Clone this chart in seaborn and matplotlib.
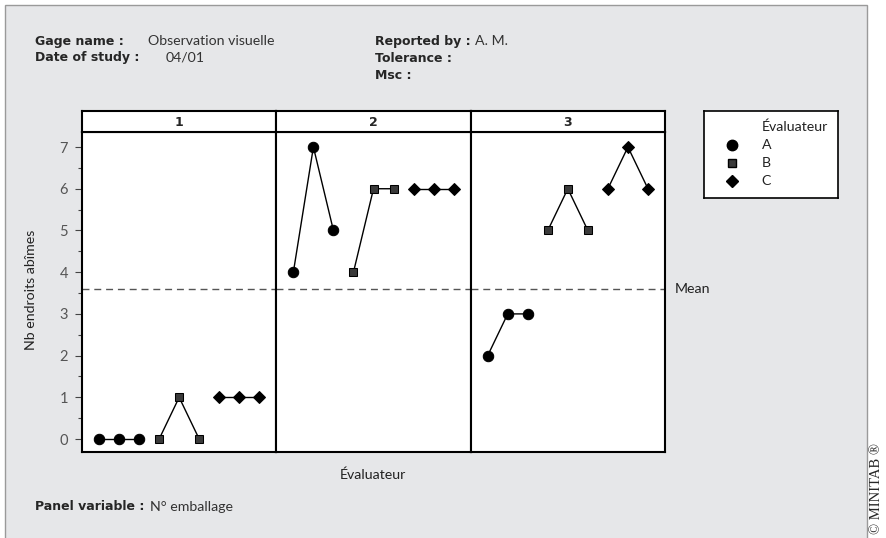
import numpy as np
import pandas as pd
import matplotlib
matplotlib.use("Agg")
import matplotlib.pyplot as plt
from matplotlib.patches import Rectangle
from matplotlib.lines import Line2D
import seaborn as sns

# ---- data -------------------------------------------------------------
panels = [1, 2, 3]
evaluators = ["A", "B", "C"]
trials = [1, 2, 3]
vals_A = [[0, 0, 0], [4, 7, 5], [2, 3, 3]]
vals_B = [[0, 1, 0], [4, 6, 6], [5, 6, 5]]
vals_C = [[1, 1, 1], [6, 6, 6], [6, 7, 6]]
y_ticks = [0, 1, 2, 3, 4, 5, 6, 7]

# ---- long table -------------------------------------------------------
rows = []
for pi, p in enumerate(panels):
    for ei, (ev, vals) in enumerate(zip(evaluators, [vals_A, vals_B, vals_C])):
        for ti, t in enumerate(trials):
            rows.append({"panel": p, "Évaluateur": ev,
                         "pos": ei * len(trials) + ti,
                         "value": vals[pi][ti]})
df = pd.DataFrame(rows)
mean_val = df["value"].mean()

# ---- style ------------------------------------------------------------
sns.set_style("white")
plt.rcParams["font.family"] = ["Lato", "DejaVu Sans"]
BOLD = ["DejaVu Sans"]

W, H = 887, 538
fig = plt.figure(figsize=(W / 100, H / 100), dpi=100)
fig.patch.set_facecolor("white")

def fx(px):
    return px / W

def fy(py):
    return 1 - py / H

# grey frame behind everything
fig.patches.append(Rectangle((fx(5), fy(545)), fx(867) - fx(5), fy(5) - fy(545),
                             transform=fig.transFigure, facecolor="#e6e7e9",
                             edgecolor="#9a9a9a", lw=1.0, zorder=-10))

# header text
hb = 9.0
hv = 10.2
fig.text(fx(35), fy(41), "Gage name :", fontsize=hb, fontweight="bold", family=BOLD, va="center")
fig.text(fx(148), fy(41), "Observation visuelle", fontsize=hv, color="#333", va="center")
fig.text(fx(35), fy(58), "Date of study :", fontsize=hb, fontweight="bold", family=BOLD, va="center")
fig.text(fx(166), fy(58), "04/01", fontsize=hv, color="#333", va="center")
fig.text(fx(375), fy(41), "Reported by :", fontsize=hb, fontweight="bold", family=BOLD, va="center")
fig.text(fx(475), fy(41), "A. M.", fontsize=hv, color="#333", va="center")
fig.text(fx(375), fy(58), "Tolerance :", fontsize=hb, fontweight="bold", family=BOLD, va="center")
fig.text(fx(375), fy(75), "Msc :", fontsize=hb, fontweight="bold", family=BOLD, va="center")

# panel geometry
left, right = 82, 665
top_strip, top_plot, bottom = 111, 132, 452
pw = (right - left) / len(panels)
ymin, ymax = -0.31, 7.36
markers = {"A": "o", "B": "s", "C": "D"}
msizes = {"A": 7.5, "B": 6.0, "C": 6.5}

for i, p in enumerate(panels):
    x0 = left + i * pw
    ax = fig.add_axes([fx(x0), fy(bottom), fx(pw), fy(top_plot) - fy(bottom)])
    ax.set_facecolor("white")
    sub = df[df["panel"] == p]
    sns.lineplot(data=sub, x="pos", y="value", style="Évaluateur",
                 markers=markers, dashes=False, color="black", lw=1.0,
                 estimator=None, sort=False, legend=False, ax=ax,
                 markeredgecolor="black")
    for line, ev in zip(ax.lines, evaluators):
        line.set_markersize(msizes[ev])
        if ev == "B":
            line.set_markerfacecolor("#3a3a3a")
    ax.axhline(mean_val, ls=(0, (5, 3.5)), color="#555555", lw=1.0, zorder=1)
    ax.set_xlim(-0.85, 8.85)
    ax.set_ylim(ymin, ymax)
    ax.set_xticks([])
    ax.set_xlabel("")
    ax.set_ylabel("")
    for s in ax.spines.values():
        s.set_color("black")
        s.set_linewidth(1.5)
    if i == 0:
        ax.set_yticks(y_ticks)
        ax.set_yticks(np.arange(0.5, 7.5, 1.0), minor=True)
        ax.tick_params(axis="y", which="major", left=True, length=5, width=0.8,
                       color="#444", labelsize=10.5, labelcolor="#555", pad=5)
        ax.tick_params(axis="y", which="minor", left=True, length=3, width=0.8,
                       color="#444")
    else:
        ax.set_yticks([])

    # strip header
    sax = fig.add_axes([fx(x0), fy(top_plot), fx(pw), fy(top_strip) - fy(top_plot)])
    sax.set_facecolor("white")
    sax.set_xticks([])
    sax.set_yticks([])
    for s in sax.spines.values():
        s.set_color("black")
        s.set_linewidth(1.5)
    sax.text(0.5, 0.47, str(p), transform=sax.transAxes, ha="center", va="center",
             fontsize=9, fontweight="bold", family=BOLD)

# mean label
fig.text(fx(675), fy(289), "Mean", fontsize=10.2, va="center", color="#222")

# axis titles
fig.text(fx(31), fy(290), "Nb endroits abîmes", rotation=90, fontsize=10.2,
         ha="center", va="center", color="#222")
fig.text(fx(373), fy(475), "Évaluateur", fontsize=10.2, ha="center", va="center",
         color="#222")

# footer
fig.text(fx(35), fy(507), "Panel variable :", fontsize=hb, fontweight="bold", family=BOLD, va="center")
fig.text(fx(150), fy(507), "N° emballage", fontsize=hv, color="#333", va="center")

# legend
lax = fig.add_axes([fx(704), fy(198), fx(838 - 704), fy(111) - fy(198)])
lax.set_xlim(0, 1)
lax.set_ylim(0, 1)
lax.set_facecolor("white")
lax.set_xticks([])
lax.set_yticks([])
for s in lax.spines.values():
    s.set_color("black")
    s.set_linewidth(1.2)
lax.text(0.43, 0.82, "Évaluateur", fontsize=10.2, va="center", ha="left", color="#222")
leg_y = [0.61, 0.40, 0.20]
for ev, yy in zip(evaluators, leg_y):
    lax.add_line(Line2D([0.21], [yy], marker=markers[ev], color="black",
                        markersize=msizes[ev],
                        markerfacecolor="#3a3a3a" if ev == "B" else "black",
                        markeredgecolor="black", linestyle="none"))
    lax.text(0.43, yy, ev, fontsize=10.2, va="center", ha="left", color="#222")

# vendor mark
fig.text(fx(877), fy(488), "© MINITAB ®", rotation=90, fontsize=10.5,
         family=["Liberation Serif", "DejaVu Serif"], ha="center", va="center")

fig.savefig("out.png", dpi=100, facecolor="white")
